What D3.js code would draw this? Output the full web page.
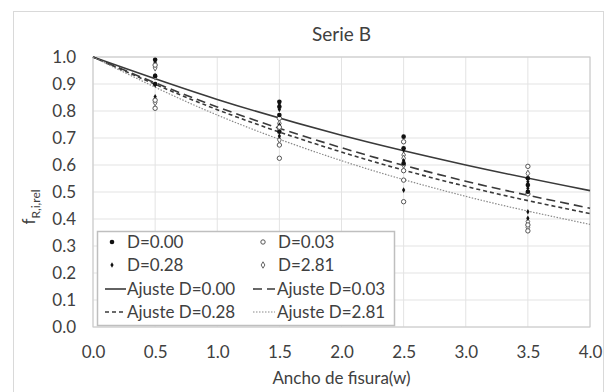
<!DOCTYPE html>
<html><head><meta charset="utf-8">
<script src="https://cdn.jsdelivr.net/npm/d3@7"></script>
<style>body{margin:0;background:#fff;}svg{display:block;}text{font-family:Lato,"Open Sans",sans-serif;fill:#404040;}</style>
</head><body>
<svg id="c" width="615" height="392"></svg>
<script>
const title = "Serie B";
const xLabel = "Ancho de fisura(w)";
const xTicks = [0,0.5,1,1.5,2,2.5,3,3.5,4];
const yTicks = [0,0.1,0.2,0.3,0.4,0.5,0.6,0.7,0.8,0.9,1.0];
const seriesNames = ["D=0.00","D=0.03","D=0.28","D=2.81"];
// measured points: [w, f]
const ptsD000 = [[0.5,0.99],[0.5,0.93],[0.5,0.90],[1.5,0.834],[1.5,0.816],[1.5,0.785],[1.5,0.723],[2.5,0.705],[2.5,0.662],[2.5,0.606],[3.5,0.551],[3.5,0.526],[3.5,0.501]];
const ptsD003 = [[0.5,0.97],[0.5,0.84],[0.5,0.81],[1.5,0.773],[1.5,0.740],[1.5,0.674],[1.5,0.625],[2.5,0.686],[2.5,0.579],[2.5,0.544],[2.5,0.464],[3.5,0.595],[3.5,0.493],[3.5,0.378],[3.5,0.356]];
const ptsD028 = [[0.5,0.98],[0.5,0.896],[0.5,0.853],[1.5,0.826],[1.5,0.806],[1.5,0.748],[1.5,0.707],[2.5,0.656],[2.5,0.616],[2.5,0.507],[3.5,0.538],[3.5,0.514],[3.5,0.427],[3.5,0.403]];
const ptsD281 = [[0.5,0.96],[0.5,0.927],[0.5,0.831],[1.5,0.754],[1.5,0.732],[1.5,0.693],[2.5,0.637],[2.5,0.625],[2.5,0.600],[3.5,0.569],[3.5,0.390],[3.5,0.369]];
// fit curves read at w = 0..4
const fitW = [0,1,2,3,4];
const fitD000 = [1.0,0.843,0.710,0.600,0.505];
const fitD003 = [1.0,0.815,0.664,0.540,0.440];
const fitD028 = [1.0,0.805,0.648,0.521,0.420];
const fitD281 = [1.0,0.785,0.616,0.484,0.380];

const svg = d3.select("#c");
const L=93,R=590,T=57,B=327;
const x = d3.scaleLinear().domain([0,4]).range([L,R]);
const y = d3.scaleLinear().domain([0,1]).range([B,T]);

svg.append("rect").attr("x",13.5).attr("y",11.5).attr("width",590).attr("height",400).attr("fill","#fff").attr("stroke","#d9d9d9");

svg.append("text").attr("x",(L+R)/2).attr("y",41).attr("text-anchor","middle").attr("font-size",19).text(title);

// grid
const g = svg.append("g");
g.selectAll("line.h").data(yTicks).join("line").attr("x1",L).attr("x2",R).attr("y1",d=>y(d)).attr("y2",d=>y(d)).attr("stroke","#e3e3e3");
g.selectAll("line.v").data(xTicks).join("line").attr("y1",T).attr("y2",B).attr("x1",d=>x(d)).attr("x2",d=>x(d)).attr("stroke","#e3e3e3");
svg.append("rect").attr("x",L).attr("y",T).attr("width",R-L).attr("height",B-T).attr("fill","none").attr("stroke","#c8c8c8");

// axes
const xa = svg.append("g").attr("transform",`translate(0,${B})`).call(d3.axisBottom(x).tickValues(xTicks).tickFormat(d3.format(".1f")).tickSize(0).tickPadding(19));
const ya = svg.append("g").attr("transform",`translate(${L},0)`).call(d3.axisLeft(y).tickValues(yTicks).tickFormat(d3.format(".1f")).tickSize(0).tickPadding(17));
[xa,ya].forEach(a=>{a.select(".domain").remove();a.selectAll("text").attr("font-size",17).attr("font-family","Lato").attr("fill","#404040");});

svg.append("text").attr("x",(L+R)/2).attr("y",384).attr("text-anchor","middle").attr("font-size",17).text(xLabel);
const yt = svg.append("text").attr("transform","translate(35,207) rotate(-90)").attr("text-anchor","middle").attr("font-size",17);
yt.append("tspan").text("f");
yt.append("tspan").attr("font-size",12).attr("dy",5).text("R,i,rel");

// fits
const line = d3.line().x((d,i)=>x(fitW[i])).y(d=>y(d)).curve(d3.curveMonotoneX);
const fitStyles = [
  {data:fitD000,dash:null,w:1.6,c:"#3a3a3a"},
  {data:fitD003,dash:"9,5",w:1.6,c:"#3a3a3a"},
  {data:fitD028,dash:"4,3",w:1.6,c:"#3a3a3a"},
  {data:fitD281,dash:"1.5,1.5",w:1.2,c:"#8a8a8a"}
];
fitStyles.forEach(s=>{
  svg.append("path").attr("d",line(s.data)).attr("fill","none").attr("stroke",s.c).attr("stroke-width",s.w).attr("stroke-dasharray",s.dash);
});

// markers
function drawMarker(sel,type){
  if(type===0) sel.append("circle").attr("r",2.3).attr("fill","#111");
  else if(type===1) sel.append("circle").attr("r",2.2).attr("fill","#fff").attr("stroke","#555").attr("stroke-width",1);
  else if(type===2) sel.append("path").attr("d",d3.symbol(d3.symbolDiamond,9)()).attr("fill","#111");
  else sel.append("path").attr("d",d3.symbol(d3.symbolDiamond,12)()).attr("fill","#fff").attr("stroke","#666").attr("stroke-width",1);
}
[ptsD281,ptsD028,ptsD003,ptsD000].forEach((pts,j)=>{
  const type=3-j;
  pts.forEach(p=>{
    const gg=svg.append("g").attr("transform",`translate(${x(p[0])},${y(p[1])})`);
    drawMarker(gg,type);
  });
});

// legend
const lg = svg.append("g");
lg.append("rect").attr("x",97.5).attr("y",231.5).attr("width",297).attr("height",94).attr("fill","#fff").attr("stroke","#bfbfbf").attr("stroke-width",1.5);
const rows=[242,265,289,312];
const cols=[[112,127],[263,278]];
[[0,0],[1,1],[2,0],[3,1]].forEach(([s,c],i)=>{
  const r=Math.floor(i/2);
  const gg=lg.append("g").attr("transform",`translate(${cols[c][0]},${rows[r]})`);
  drawMarker(gg,s);
  lg.append("text").attr("x",cols[c][1]).attr("y",rows[r]).attr("dy","0.35em").attr("font-size",17).text(seriesNames[s]);
});
const lineCols=[[105,126,127],[253,275,277]];
fitStyles.forEach((s,i)=>{
  const r=2+Math.floor(i/2), c=i%2;
  lg.append("line").attr("x1",lineCols[c][0]).attr("x2",lineCols[c][1]).attr("y1",rows[r]).attr("y2",rows[r]).attr("stroke",s.c).attr("stroke-width",s.w).attr("stroke-dasharray",s.dash);
  lg.append("text").attr("x",lineCols[c][2]).attr("y",rows[r]).attr("dy","0.35em").attr("font-size",17).text("Ajuste "+seriesNames[i]);
});
</script>
</body></html>
